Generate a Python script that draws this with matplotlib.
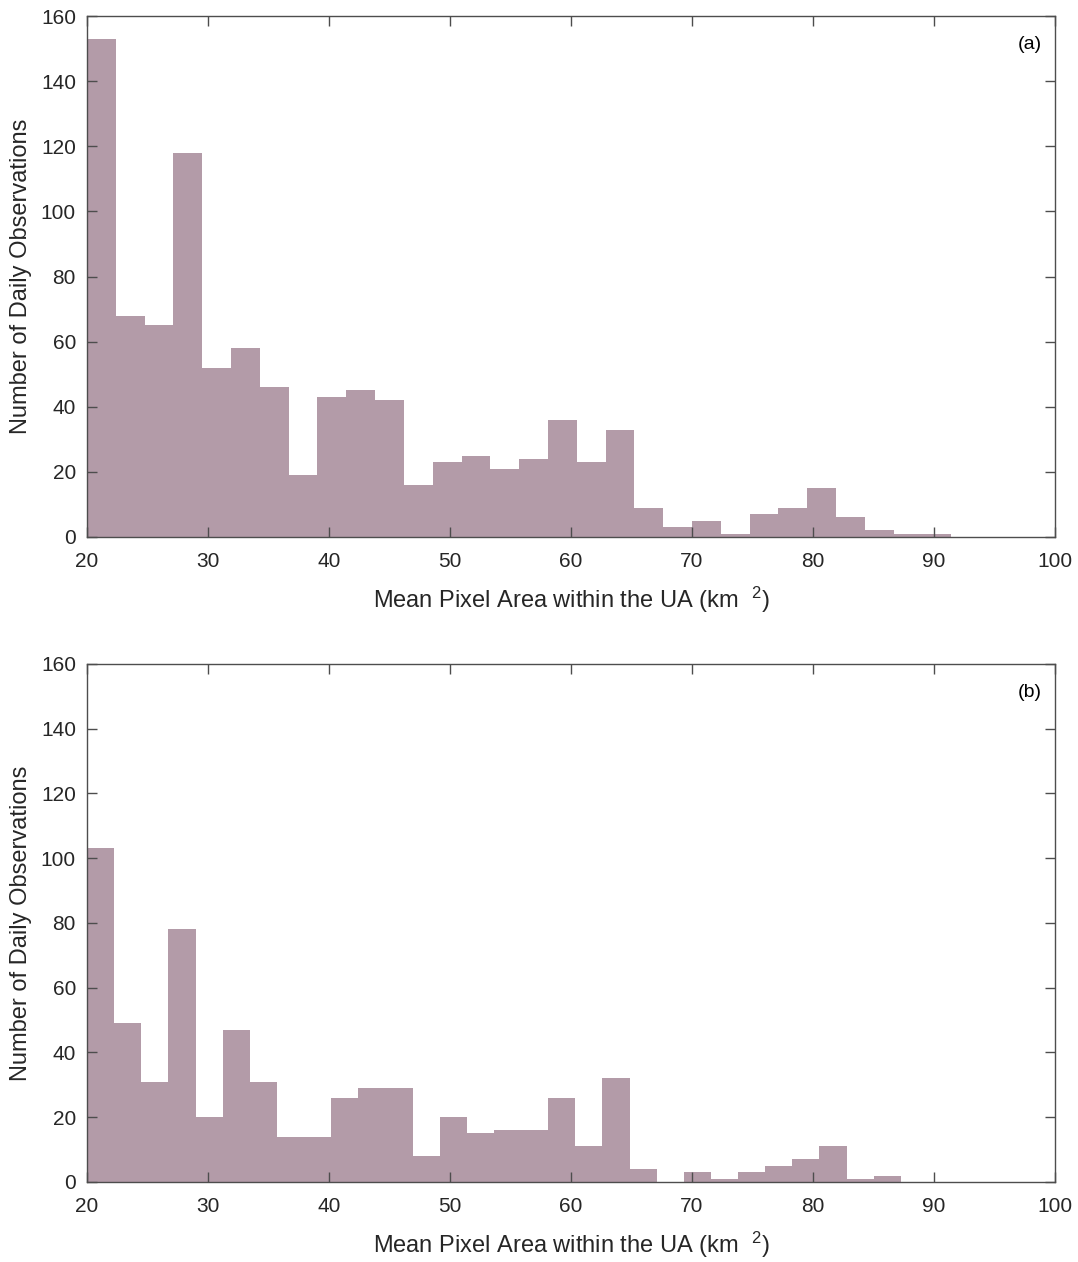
import numpy as np
import matplotlib
matplotlib.use('Agg')
import matplotlib.pyplot as plt

plt.rcParams['font.family'] = ['Liberation Sans', 'DejaVu Sans']
plt.rcParams['mathtext.fontset'] = 'custom'
plt.rcParams['mathtext.rm'] = 'Liberation Sans'
plt.rcParams['mathtext.default'] = 'regular'

# histogram counts (30 bins each)
counts_a = [153, 68, 65, 118, 52, 58, 46, 19, 43, 45, 42, 16, 23, 25, 21,
            24, 36, 23, 33, 9, 3, 5, 1, 7, 9, 15, 6, 2, 1, 1]
counts_b = [103, 49, 31, 78, 20, 47, 31, 14, 14, 26, 29, 29, 8, 20, 15,
            16, 16, 26, 11, 32, 4, 0, 3, 1, 3, 5, 7, 11, 1, 2]

# bin range of each panel
range_a = (20.0, 91.43)
range_b = (20.0, 87.26)

x_ticks = [20, 30, 40, 50, 60, 70, 80, 90, 100]
y_ticks = [0, 20, 40, 60, 80, 100, 120, 140, 160]
panel_labels = ['(a)', '(b)']

bar_color = '#B39BA8'
text_color = '#262626'
spine_color = '#4d4d4d'

fig = plt.figure(figsize=(10.78, 12.62), dpi=100)
ax_a = fig.add_axes([0.0807, 0.5745, 0.898, 0.4128])
ax_b = fig.add_axes([0.0807, 0.0634, 0.898, 0.4105])

for ax, counts, rng, lab in zip([ax_a, ax_b], [counts_a, counts_b],
                                [range_a, range_b], panel_labels):
    edges = np.linspace(rng[0], rng[1], len(counts) + 1)
    ax.stairs(counts, edges, fill=True, color=bar_color, linewidth=0)

    ax.set_xlim(20, 100)
    ax.set_ylim(0, 160)
    ax.set_xticks(x_ticks)
    ax.set_yticks(y_ticks)
    ax.tick_params(direction='in', length=7, width=1, top=True, right=True,
                   labelsize=15, colors=spine_color, labelcolor=text_color)
    ax.tick_params(axis='x', pad=11)
    ax.tick_params(axis='y', pad=8)
    for sp in ax.spines.values():
        sp.set_color(spine_color)
        sp.set_linewidth(1.0)

    ax.set_xlabel('Mean Pixel Area within the UA (km  $^{2}$)', fontsize=17,
                  color=text_color, labelpad=10)
    ax.set_ylabel('Number of Daily Observations', fontsize=17,
                  color=text_color, labelpad=6)
    ax.text(0.986, 0.945, lab, transform=ax.transAxes, ha='right', va='center',
            fontsize=14, color='black')

fig.savefig('out.png', dpi=100)
